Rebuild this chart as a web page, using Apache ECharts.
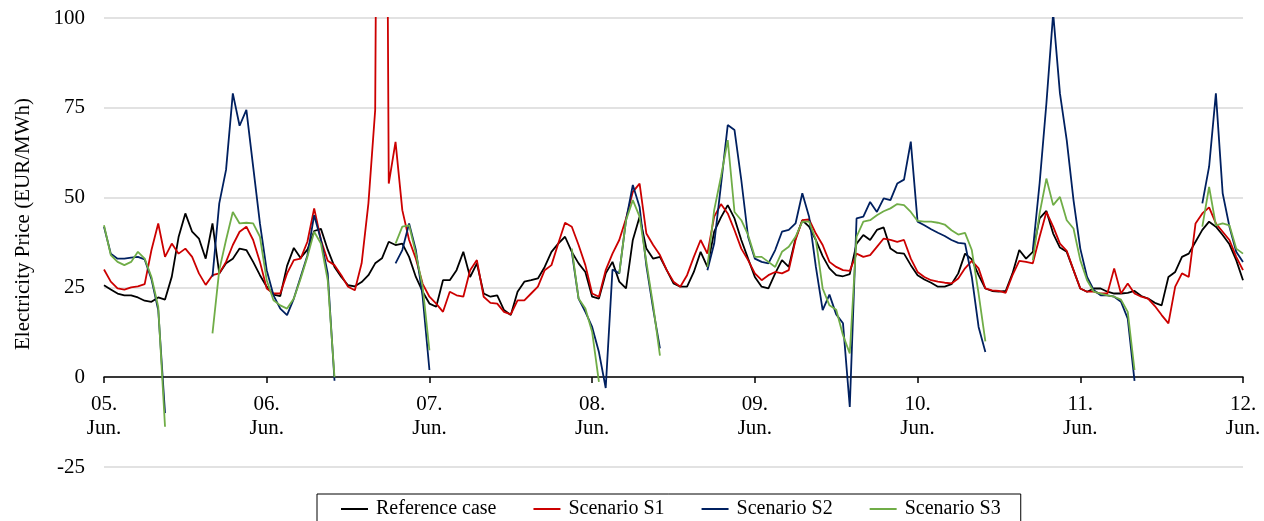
<!DOCTYPE html>
<html>
<head>
<meta charset="utf-8">
<script src="https://cdn.jsdelivr.net/npm/echarts@6/dist/echarts.min.js"></script>
<style>
  html, body { margin: 0; padding: 0; background: #fff; }
  #main { width: 1264px; height: 521px; }
</style>
</head>
<body>
<div id="main"></div>
<script>
// hourly prices, 05.06 00:00 .. 12.06 00:00 (169 values), null = no value
var dayLabels = ['05.\nJun.', '06.\nJun.', '07.\nJun.', '08.\nJun.', '09.\nJun.', '10.\nJun.', '11.\nJun.', '12.\nJun.'];
var yTicks = [-25, 0, 25, 50, 75, 100];

var refCase = [
    25.6, 24.4, 23.3, 22.8, 22.8, 22.2, 21.3, 21.0, 22.2, 21.6, 28, 39, 45.6, 40.5, 38.6, 33, 42.8, 28.9, 31.7, 33, 35.8, 35.4, 32.1, 28.4,
    25.2, 23, 22.6, 31, 36, 33.2, 35.5, 40.7, 41.3, 35.5, 30.7, 27.9, 25.6, 25.3, 26.5, 28.4, 31.7, 33.1, 37.7, 36.8, 37.2, 33.5, 27.9, 23.8,
    20.5, 19.6, 27, 27, 29.8, 34.9, 27.9, 31.7, 23.3, 22.4, 22.8, 18.7, 17.3, 23.8, 26.6, 27, 27.5, 30.7, 34.9, 37.2, 39.1, 34.9, 31.7, 29.3,
    22.4, 21.9, 28.9, 32.1, 26.6, 24.7, 38.2, 44.7, 35.8, 33, 33.5, 29.8, 26.1, 25.2, 25.2, 29.3, 34.9, 30.7, 40.5, 44.5, 47.9, 44.2, 38.2, 33,
    27.9, 25.2, 24.7, 28.9, 32.6, 30.7, 38.6, 43.7, 41.9, 38.2, 33.7, 30.3, 28.4, 28.1, 28.7, 37.2, 39.6, 38.2, 41, 41.7, 35.8, 34.6, 34.4, 31.2,
    28.4, 27.2, 26.3, 25.2, 25.2, 25.9, 28.9, 34.4, 32.8, 28.4, 24.7, 24, 23.8, 24, 28.9, 35.4, 33, 34.9, 44.2, 46.3, 40, 36.1, 34.9, 29.8,
    24.7, 23.8, 24.7, 24.7, 23.8, 23.3, 23.3, 23.5, 24, 22.6, 21.9, 20.7, 20, 27.9, 29.3, 33.5, 34.4, 37.7, 41, 43.3, 41.9, 39.6, 37, 32.6,
    27
];
var scenS1 = [
    30, 26.6, 24.7, 24.4, 25, 25.3, 25.9, 35.4, 42.8, 33.5, 37.2, 34.4, 35.8, 33.5, 28.9, 25.7, 28.4, 28.9, 32.1, 36.8, 40.5, 41.9, 38.2, 32.1,
    24.7, 23.3, 23.3, 28.9, 32.6, 33, 37.7, 47, 38.2, 32.4, 31.2, 28.4, 25.2, 24.2, 31.7, 48.4, 74.4, 400, 53.9, 65.5, 46.5, 38.2, 33, 26,
    22.4, 20.5, 18.2, 23.8, 22.8, 22.4, 29.8, 32.6, 22.4, 20.7, 20.5, 18.2, 17.5, 21.4, 21.4, 23.3, 25.2, 29.8, 31.2, 37.2, 43, 41.9, 36.8, 31.2,
    23.3, 22.4, 29.8, 34.4, 38.2, 44.2, 51.6, 53.9, 40, 36.8, 34, 29.8, 26.6, 25.2, 28.4, 33.5, 38.2, 34.4, 44.7, 48.2, 45.6, 40.9, 35.8, 32.6,
    28.9, 27, 28.4, 29.3, 28.9, 29.8, 38.2, 43.7, 43.9, 40, 36.8, 32.1, 30.7, 29.8, 29.6, 34.4, 33.5, 34, 36.3, 38.6, 38.2, 37.7, 38.2, 33,
    29.3, 27.9, 27, 26.6, 26.3, 26.1, 27.5, 30.3, 32.4, 30.3, 24.7, 24.2, 24, 23.5, 28.4, 32.4, 32.1, 31.7, 39.1, 46, 41.9, 37.2, 35.2, 29.8,
    24.7, 23.8, 23.8, 23.3, 23.3, 30.3, 23.3, 26.1, 23.3, 22.4, 21.9, 19.8, 17.3, 15, 25.2, 28.9, 27.9, 42.8, 45.6, 47.3, 42.8, 40.5, 38.2, 33.5,
    29.8
];
var scenS2 = [
    41.9, 34.4, 33, 33, 33.3, 33.5, 32.8, 27.3, 18.7, -10, null, null, null, null, null, null, 28, 48.4, 57.7, 79, 70, 74.4, 58.6, 42.8,
    29.8, 22.8, 19.1, 17.3, 21.9, 27.9, 33.9, 45.1, 38.2, 28.9, -1, null, null, null, null, null, null, null, null, 31.7, 35.4, 42.8, 35.4, 22.4,
    2, null, null, null, null, null, null, null, null, null, null, null, null, null, null, null, null, null, null, null, null, 34.9, 21.9, 18.2,
    14, 7, -3, 30, 28.9, 43.7, 53.5, 47.4, 31, 19, 8, null, null, null, null, null, null, 29.8, 37.2, 53.5, 70.2, 68.8, 54.9, 39.1,
    33, 32.1, 31.7, 35.4, 40.5, 41, 42.8, 51.2, 44.7, 30.7, 18.7, 23, 17.5, 15, -8.3, 44.2, 44.7, 48.8, 46, 49.8, 49.3, 53.9, 55, 65.6,
    43.3, 42.3, 41.2, 40.2, 39.3, 38.2, 37.4, 37.2, 27.9, 14, 7, null, null, null, null, null, null, 35.4, 54, 76.2, 101.3, 79, 66, 49.3,
    35.8, 27.9, 24.2, 22.8, 22.8, 22.4, 21, 16.3, -1, null, null, null, null, null, null, null, null, null, 48.4, 58.6, 79, 51.2, 41.9, 34.9,
    32.1
];
var scenS3 = [
    42.3, 34, 32.1, 31.2, 32.1, 34.9, 33, 27.9, 19.6, -13.8, null, null, null, null, null, null, 12.2, 29.8, 38.2, 46, 42.8, 43, 42.8, 39.1,
    27, 21.4, 20, 19.1, 21.9, 27.4, 33.5, 40.5, 37.2, 27, 0, null, null, null, null, null, null, null, null, 37.2, 41.9, 42.3, 34.4, 25.2,
    7.5, null, null, null, null, null, null, null, null, null, null, null, null, null, null, null, null, null, null, null, null, 35.8, 21.9, 19.1,
    12.6, -1.3, null, null, 28.9, 43.7, 49.3, 44.7, 32, 20, 6, null, null, null, null, null, null, 30.7, 46.5, 55.8, 66, 46, 43.7, 39.6,
    33.5, 33.5, 32.1, 30.7, 34.9, 36.3, 39.1, 43.3, 43.3, 38.2, 24.7, 20, 18.8, 11.7, 6.6, 39.1, 43.3, 43.7, 45.1, 46.2, 47, 48.2, 47.9, 46,
    43.5, 43.3, 43.3, 43, 42.5, 40.9, 39.7, 40.2, 35.4, 23.3, 10, null, null, null, null, null, null, 32.6, 45.6, 55.3, 47.9, 50.2, 43.7, 41.4,
    32.6, 27, 23.8, 23.3, 22.8, 22.4, 21.6, 18.2, 2, null, null, null, null, null, null, null, null, null, 41.9, 53, 42.3, 42.8, 42.3, 35.8,
    34.4
];

function toPoints(arr) {
    return arr.map(function (v, i) { return [i, v === null ? '-' : v]; });
}

var font = 'Liberation Serif';
var chart = echarts.init(document.getElementById('main'));

var option = {
    animation: false,
    backgroundColor: '#fff',
    grid: { left: 104, right: 21, top: 18, bottom: 54 },
    legend: {
        left: 317,
        top: 494,
        padding: [5, 20, 5, 24],
        borderColor: '#000',
        borderWidth: 1,
        icon: 'rect',
        itemWidth: 27,
        itemHeight: 2,
        itemGap: 37,
        textStyle: { fontFamily: font, fontSize: 20, color: '#000', padding: [0, 0, 0, 3] },
        data: ['Reference case', 'Scenario S1', 'Scenario S2', 'Scenario S3']
    },
    graphic: [{
        type: 'text',
        x: 23,
        y: 224,
        rotation: Math.PI / 2,
        style: {
            text: 'Electricity Price (EUR/MWh)',
            fontFamily: font,
            fontSize: 21,
            fill: '#000',
            align: 'center',
            verticalAlign: 'middle'
        }
    }],
    xAxis: {
        type: 'value',
        min: 0,
        max: 168,
        interval: 24,
        // axis sits on y = 0, labels follow it
        offset: -90,
        axisLine: { onZero: false, lineStyle: { color: '#000', width: 1.5 } },
        axisTick: { show: true, length: 6, lineStyle: { color: '#000', width: 1.5 } },
        splitLine: { show: false },
        axisLabel: {
            margin: 15,
            fontFamily: font,
            fontSize: 21,
            lineHeight: 24,
            color: '#000',
            formatter: function (v) { return dayLabels[Math.round(v / 24)]; }
        }
    },
    yAxis: {
        type: 'value',
        min: yTicks[0],
        max: yTicks[yTicks.length - 1],
        interval: 25,
        axisLine: { show: false },
        axisTick: { show: false },
        splitLine: { lineStyle: { color: '#d9d9d9', width: 1.5 } },
        axisLabel: { margin: 19, fontFamily: font, fontSize: 21, color: '#000' }
    },
    series: [
        { name: 'Reference case', type: 'line', data: toPoints(refCase), color: '#000000' },
        { name: 'Scenario S1', type: 'line', data: toPoints(scenS1), color: '#cc0000' },
        { name: 'Scenario S2', type: 'line', data: toPoints(scenS2), color: '#002060' },
        { name: 'Scenario S3', type: 'line', data: toPoints(scenS3), color: '#70ad47' }
    ].map(function (s) {
        s.symbol = 'none';
        s.showSymbol = false;
        s.connectNulls = false;
        s.clip = true;
        s.lineStyle = { width: 1.8, color: s.color };
        return s;
    })
};
chart.setOption(option);
</script>
</body>
</html>
